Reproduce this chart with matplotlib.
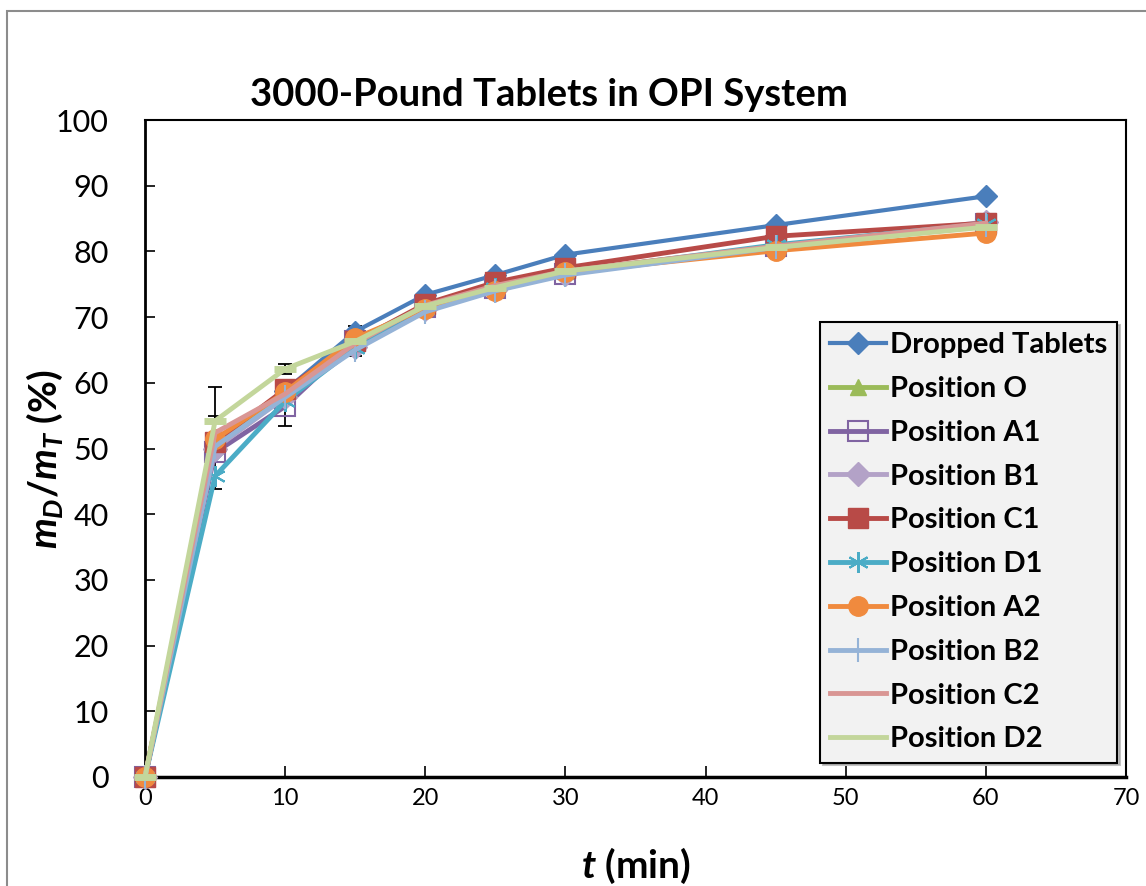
import matplotlib
matplotlib.use("Agg")
import matplotlib.pyplot as plt
from matplotlib.patches import Rectangle

# ---- data ----
t_min = [0, 5, 10, 15, 20, 25, 30, 45, 60]
series_names = ["Dropped Tablets", "Position O", "Position A1", "Position B1", "Position C1",
                "Position D1", "Position A2", "Position B2", "Position C2", "Position D2"]
dropped = [0, 49.8, 58.8, 67.8, 73.4, 76.4, 79.5, 84.0, 88.4]
pos_O = [0, 50.5, 58.5, 66.0, 71.8, 74.6, 77.0, 80.7, 84.0]
pos_A1 = [0, 49.4, 56.4, 66.4, 71.5, 74.5, 76.6, 80.8, 84.2]
pos_B1 = [0, 50.0, 57.8, 65.5, 71.3, 74.2, 76.6, 80.5, 84.5]
pos_C1 = [0, 51.0, 59.0, 66.3, 72.0, 75.3, 77.5, 82.3, 84.3]
pos_D1 = [0, 45.8, 57.2, 65.3, 71.3, 74.4, 76.8, 81.0, 84.2]
pos_A2 = [0, 51.4, 58.6, 66.8, 71.3, 74.0, 76.8, 80.1, 82.8]
pos_B2 = [0, 50.3, 57.8, 65.0, 70.8, 74.0, 76.4, 80.6, 84.0]
pos_C2 = [0, 52.4, 58.3, 66.0, 71.8, 74.8, 77.0, 80.8, 84.3]
pos_D2 = [0, 54.2, 62.1, 66.3, 71.7, 74.5, 77.0, 80.6, 83.7]
err_A1 = [0, 5.5, 2.9, 2.3, 0.6, 0.6, 0.6, 0.8, 1.4]
err_D2 = [0, 5.2, 0.7, 0.5, 0.5, 0.5, 0.5, 0.5, 0.5]
x_ticks = [0, 10, 20, 30, 40, 50, 60, 70]
y_ticks = [0, 10, 20, 30, 40, 50, 60, 70, 80, 90, 100]

values = [dropped, pos_O, pos_A1, pos_B1, pos_C1, pos_D1, pos_A2, pos_B2, pos_C2, pos_D2]

LW = 3.5
styles = [
    dict(color="#4a7ebb", lw=3.0, marker="D", ms=11, mfc="#4a7ebb", mec="#4a7ebb"),
    dict(color="#9bbb59", lw=LW, marker="^", ms=11, mfc="#9bbb59", mec="#9bbb59"),
    dict(color="#8064a2", lw=LW, marker="s", ms=15, mfc="none", mec="#8064a2", mew=1.5),
    dict(color="#b3a2c7", lw=LW, marker="D", ms=12, mfc="#b3a2c7", mec="#b3a2c7"),
    dict(color="#b84a47", lw=LW, marker="s", ms=15, mfc="#b84a47", mec="#b84a47"),
    dict(color="#4bacc6", lw=LW, marker=(6, 2, 0), ms=15, mfc="#4bacc6", mec="#4bacc6", mew=1.5),
    dict(color="#f08a3e", lw=LW, marker="o", ms=14, mfc="#f08a3e", mec="#f08a3e"),
    dict(color="#95b3d7", lw=LW, marker="|", ms=17, mfc="#95b3d7", mec="#95b3d7", mew=1.5),
    dict(color="#d99694", lw=LW, marker="None"),
    dict(color="#c3d69b", lw=LW, marker="_", ms=16, mec="#c3d69b", mew=5),
]

plt.rcParams['font.family'] = ['Lato', 'DejaVu Sans']
plt.rcParams['mathtext.fontset'] = 'custom'
plt.rcParams['mathtext.it'] = 'Lato:bold:italic'
plt.rcParams['mathtext.rm'] = 'Lato:bold'
plt.rcParams['mathtext.bf'] = 'Lato:bold'

fig = plt.figure(figsize=(11.46, 8.86), dpi=100)
ax = fig.add_axes([145 / 1146, 1 - 777 / 886, (1126 - 145) / 1146, (777 - 120) / 886])

# error bars
ax.errorbar(t_min, pos_A1, yerr=err_A1, fmt="none", ecolor="black", elinewidth=1.3,
            capsize=5, capthick=1.3, zorder=2)
ax.errorbar(t_min, pos_D2, yerr=err_D2, fmt="none", ecolor="black", elinewidth=1.3,
            capsize=5, capthick=1.3, zorder=2)

for i, (name, vals, st) in enumerate(zip(series_names, values, styles)):
    ax.plot(t_min, vals, label=name, zorder=3 + i, clip_on=False, **st)

ax.set_xlim(0, 70)
ax.set_ylim(0, 100)
ax.set_xticks(x_ticks)
ax.set_yticks(y_ticks)
ax.tick_params(axis="x", direction="in", length=8, width=1.2, labelsize=17, pad=8)
ax.tick_params(axis="y", direction="in", length=7, width=1.2, labelsize=22, pad=26)
for sp in ax.spines.values():
    sp.set_linewidth(1.5)
ax.spines["left"].set_linewidth(2.0)
ax.spines["bottom"].set_linewidth(2.5)

ax.set_xlabel(r"$t$ (min)", fontsize=28, fontweight="bold")
ax.xaxis.set_label_coords(0.5, -(866 - 777) / (777 - 120), transform=ax.transAxes)
ax.xaxis.label.set_va("center")
ax.set_ylabel(r"$m_D/m_T$ (%)", fontsize=28, fontweight="bold")
ax.yaxis.set_label_coords(-(145 - 45) / (1126 - 145), (777 - 459) / (777 - 120))
ax.yaxis.label.set_va("center")

fig.text(549 / 1146, 1 - 95 / 886, "3000-Pound Tablets in OPI System", fontsize=27.5,
         fontweight="bold", ha="center", va="center")

leg = ax.legend(loc="upper left", bbox_to_anchor=(820 / 1146, 1 - 322 / 886),
                bbox_transform=fig.transFigure, prop=dict(size=21, weight="bold"),
                frameon=True, fancybox=False, shadow=dict(color="#9a9a9a", alpha=0.6),
                handlelength=1.9, handletextpad=0.15, labelspacing=0.61, borderpad=0.35,
                borderaxespad=0, numpoints=1)
leg.get_frame().set_facecolor("#f2f2f2")
leg.get_frame().set_edgecolor("black")
leg.get_frame().set_linewidth(1.5)
leg.set_zorder(20)
leg.get_lines()[-1].set_marker("None")

# outer chart border
fig.patches.append(Rectangle((7 / 1146, -0.5), 2.0, 1 - 11 / 886 + 0.5, transform=fig.transFigure,
                             fill=False, edgecolor="#8c8c8c", linewidth=1.5))

fig.savefig("out.png", dpi=100)
